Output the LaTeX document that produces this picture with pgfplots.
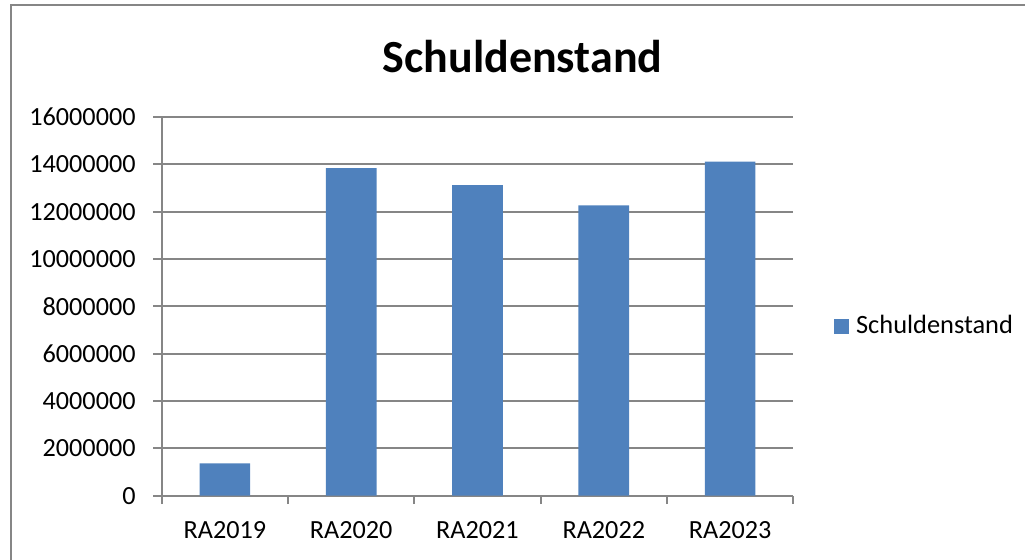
\documentclass[border=0pt]{standalone}
\usepackage{fontspec}
\setmainfont{Carlito}
\usepackage{pgfplots}
\pgfplotsset{compat=1.18}
\usepackage{xcolor}
\definecolor{barblue}{HTML}{4F81BD}
\definecolor{gridgray}{HTML}{868686}

\begin{document}
\begin{tikzpicture}
\path[use as bounding box] (-80.85pt,-31.65pt) rectangle (431.65pt,247.85pt);
\draw[gridgray, line width=1pt] (-75.35pt,-40pt) -- (-75.35pt,245.6pt) -- (440pt,245.6pt);
\begin{axis}[
  scale only axis,
  width=315.8pt, height=189.35pt,
  xmin=-0.5, xmax=4.5, ymin=0, ymax=16000000,
  axis x line*=bottom, axis y line*=left,
  axis line style={gridgray, line width=0.9pt, -},
  tick align=outside,
  major tick length=4.2pt,
  tick style={gridgray, line width=0.9pt},
  xtick={-0.5,0.5,1.5,2.5,3.5,4.5},
  xticklabels={},
  extra x ticks={0,1,2,3,4},
  extra x tick labels={RA2019,RA2020,RA2021,RA2022,RA2023},
  extra x tick style={major tick length=0pt, grid=none},
  ytick={0,2000000,4000000,6000000,8000000,10000000,12000000,14000000,16000000},
  scaled y ticks=false,
  ymajorgrids,
  grid style={gridgray, line width=0.9pt},
  /pgf/number format/fixed,
  /pgf/number format/1000 sep={},
  /pgf/number format/assume math mode=true,
  yticklabel style={anchor=east, inner sep=0pt, xshift=-8.65pt},
  xticklabel style={anchor=north, inner sep=0pt, yshift=-12.9pt},
  ticklabel style={font=\fontsize{13.1}{15}\selectfont, text=black},
  title={Schuldenstand},
  title style={at={(0.5713,1.0871)}, anchor=base, inner sep=0pt,
    font=\bfseries\fontsize{23}{28}\selectfont},
  legend style={at={(1.064,0.4494)}, anchor=west, draw=none, fill=none,
    inner sep=0pt, font=\fontsize{13.2}{15}\selectfont,
    nodes={inner sep=0pt, anchor=base west}},
  ybar, bar width=25.35pt, bar shift=0pt,
]
\addplot[fill=barblue, draw=none,
  legend image code/.code={\fill[barblue] (0pt,-0.4pt) rectangle (7.5pt,7.1pt);}]
  coordinates
  {(0,1370000) (1,13840000) (2,13120000) (3,12270000) (4,14110000)};
\addlegendentry{\hspace{3.5pt}Schuldenstand}
\end{axis}
\end{tikzpicture}
\end{document}
